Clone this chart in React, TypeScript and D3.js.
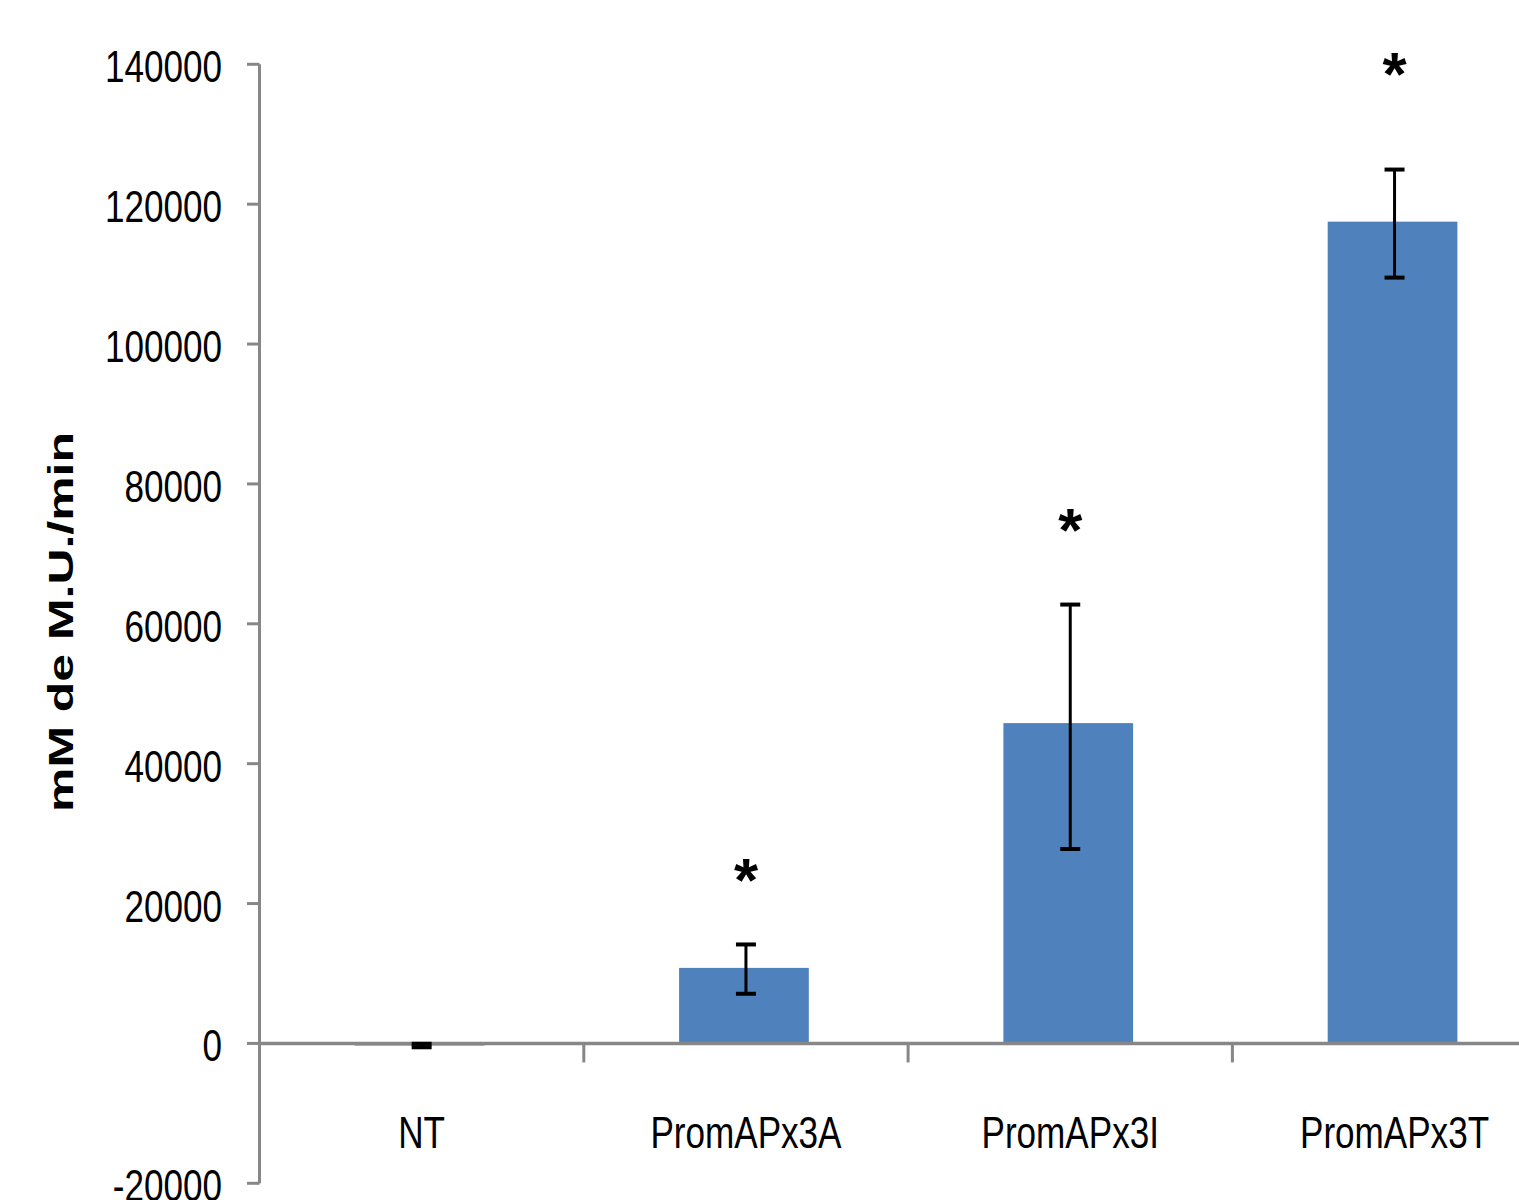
import React from 'react'
import { scaleBand, scaleLinear } from 'd3'

const width = 1519
const height = 1200

const categories = ['NT', 'PromAPx3A', 'PromAPx3I', 'PromAPx3T']
const means = [-300, 10800, 45800, 117500]
// error bar extent above / below the mean
const errHigh = [250, 3350, 16950, 7450]
const errLow = [250, 3700, 18000, 8000]
// height (in axis units) where the significance asterisk sits, null = none
const starLevels = [null, 24200, 74300, 139400]
const yTicks = [-20000, 0, 20000, 40000, 60000, 80000, 100000, 120000, 140000]

const axisColor = '#878787'
const barColor = '#4F81BD'
const labelFont = '"Liberation Sans", Arial, sans-serif'
const squeeze = 0.78 // labels in the picture are horizontally narrow

export default function App() {
    const xScale = scaleBand()
        .domain(categories)
        .range([259.5, 259.5 + 324.3 * 4])
        .paddingInner(0)
    const yScale = scaleLinear()
        .domain([-20000, 140000])
        .range([1183.3, 64.3])

    const barW = xScale.bandwidth() * 0.4 // gap width 150%
    const capW = 20
    const y0 = yScale(0)
    const mid = (c: string) => xScale(c) + xScale.bandwidth() / 2

    return (
        <svg width={width} height={height} style={{ position: 'absolute', left: 0, top: 0, background: '#fff' }}>
            {/* bars */}
            {categories.map((c, i) => {
                const yv = yScale(means[i])
                return (
                    <rect key={c} x={mid(c) - 2 - barW / 2} y={Math.min(yv, y0)} width={barW}
                        height={Math.abs(y0 - yv)} fill={barColor} />
                )
            })}

            {/* y axis */}
            <line x1={259.5} x2={259.5} y1={yScale(140000)} y2={yScale(-20000)} stroke={axisColor} strokeWidth={3} />
            {yTicks.map(t => (
                <g key={t}>
                    <line x1={247} x2={259.5} y1={yScale(t)} y2={yScale(t)} stroke={axisColor} strokeWidth={3} />
                    <text transform={`translate(222, ${yScale(t) + 18}) scale(${squeeze}, 1)`} textAnchor="end"
                        fontFamily={labelFont} fontSize={45} fill="#000">{t}</text>
                </g>
            ))}

            {/* x axis at zero */}
            <line x1={259.5} x2={259.5 + 324.3 * 4} y1={y0} y2={y0} stroke={axisColor} strokeWidth={3.5} />
            {categories.map(c => (
                <line key={c} x1={xScale(c) + xScale.bandwidth()} x2={xScale(c) + xScale.bandwidth()}
                    y1={y0} y2={y0 + 19} stroke={axisColor} strokeWidth={3} />
            ))}
            {categories.map(c => (
                <text key={c} transform={`translate(${mid(c)}, 1148) scale(${squeeze}, 1)`} textAnchor="middle"
                    fontFamily={labelFont} fontSize={45} fill="#000">{c}</text>
            ))}

            {/* error bars */}
            {categories.map((c, i) => {
                const cx = mid(c)
                const top = yScale(means[i] + errHigh[i])
                const bot = yScale(means[i] - errLow[i])
                return (
                    <g key={c} stroke="#000">
                        <line x1={cx} x2={cx} y1={top} y2={bot} strokeWidth={3} />
                        <line x1={cx - capW / 2} x2={cx + capW / 2} y1={top} y2={top} strokeWidth={4} />
                        <line x1={cx - capW / 2} x2={cx + capW / 2} y1={bot} y2={bot} strokeWidth={4} />
                    </g>
                )
            })}

            {/* significance marks */}
            {categories.map((c, i) => starLevels[i] !== null && (
                <text key={c} x={mid(c)} y={yScale(starLevels[i] as number) + 27} textAnchor="middle"
                    fontFamily={labelFont} fontWeight="bold" fontSize={62} fill="#000">*</text>
            ))}

            {/* y axis title */}
            <text transform="translate(73, 622) rotate(-90)" textAnchor="middle"
                fontFamily={labelFont} fontWeight="bold" fontSize={35}
                textLength={380} lengthAdjust="spacingAndGlyphs" fill="#000">mM de M.U./min</text>
        </svg>
    )
}
